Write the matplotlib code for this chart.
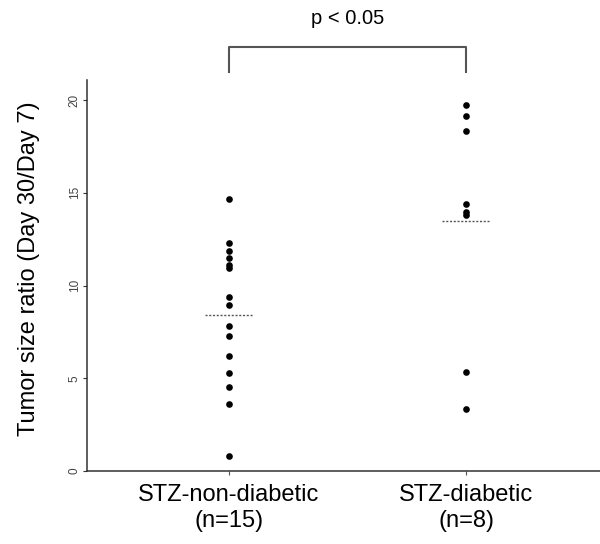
import numpy as np
import matplotlib
matplotlib.use('Agg')
import matplotlib.pyplot as plt

plt.rcParams['font.family'] = ['Liberation Sans', 'DejaVu Sans']

# data
groups = ['STZ-non-diabetic\n(n=15)', 'STZ-diabetic\n(n=8)']
non_diabetic = [14.65, 12.31, 11.88, 11.47, 11.11, 10.96, 9.40, 8.95,
                7.83, 7.28, 6.20, 5.30, 4.51, 3.61, 0.81]
diabetic = [19.73, 19.16, 18.35, 14.39, 13.95, 13.80, 5.32, 3.34]
yticks = [0, 5, 10, 15, 20]
p_text = 'p < 0.05'

fig = plt.figure(figsize=[6, 5.44], dpi=100)
ax = fig.add_axes([0.145, 0.134, 0.855, 0.719])

for i, vals in enumerate([non_diabetic, diabetic]):
    x = i + 1
    ax.plot([x] * len(vals), vals, marker='o', markersize=4.8, markeredgewidth=0,
            color='black', linestyle='None', clip_on=False)
    m = np.mean(vals)
    ax.plot([x - 0.1, x + 0.1], [m, m], color='#555555', linestyle=(0, (1.5, 1.2)),
            linewidth=1)

ax.set_xlim(0.401, 2.565)
ax.set_ylim(0, 21.08)

ax.spines['top'].set_visible(False)
ax.spines['right'].set_visible(False)
for s in ['left', 'bottom']:
    ax.spines[s].set_color('#333333')
    ax.spines[s].set_linewidth(1.1)

ax.set_xticks([1, 2])
ax.set_xticklabels(groups, fontsize=17, linespacing=1.25)
ax.tick_params(axis='x', length=3, color='#555555', pad=6)
ax.set_yticks(yticks)
ax.set_yticklabels(yticks, fontsize=8.5, rotation=90, va='center', color='#444444')
ax.tick_params(axis='y', length=3, color='#333333', pad=1.5)
ax.set_ylabel('Tumor size ratio (Day 30/Day 7)', fontsize=17)
ax.yaxis.set_label_coords(-0.092, 0.517)

# significance bracket
ax.plot([1, 1, 2, 2], [21.5, 22.86, 22.86, 21.5], color='#555555', linewidth=1.5,
        clip_on=False)
ax.text(1.5, 24.4, p_text, ha='center', va='center', fontsize=14.5)

fig.savefig('out.png', dpi=100)
